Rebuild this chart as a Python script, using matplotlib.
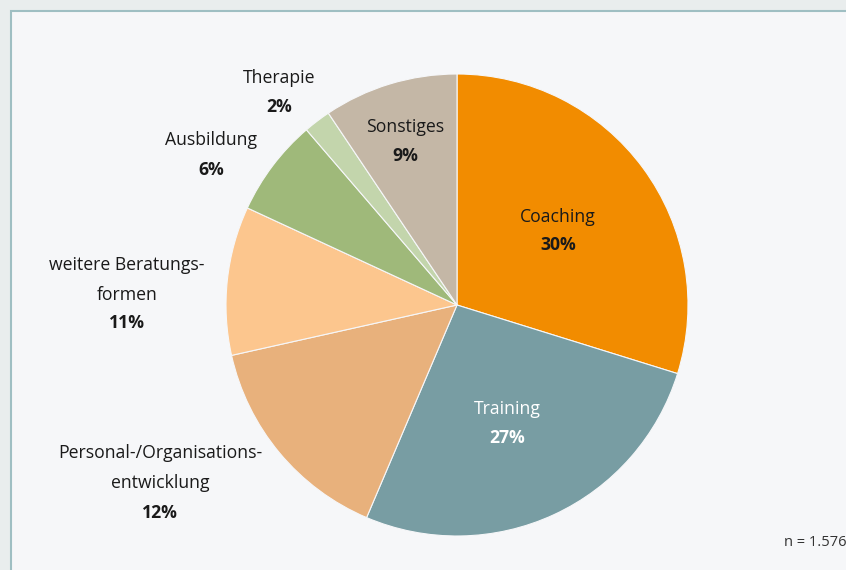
import matplotlib.pyplot as plt
from matplotlib.patches import Rectangle

# Anteile (Keile wie im Bild gemessen; Beschriftung wie gedruckt)
categories = ["Coaching", "Training", "Personal-/Organisations-\nentwicklung",
              "weitere Beratungs-\nformen", "Ausbildung", "Therapie", "Sonstiges"]
sizes = [29.8, 26.6, 15.1, 10.4, 6.8, 1.9, 9.4]
pct_labels = ["30%", "27%", "12%", "11%", "6%", "2%", "9%"]
colors = ["#f28c00", "#789da3", "#e8b17c", "#fcc68e", "#9fb97a", "#c3d5ac", "#c4b7a6"]

# Textpositionen in Pixeln (x, y-Mitte Name, y-Mitte Prozent; y von oben)
label_x = [558, 507, 160, 127, 211, 279, 405]
name_y = [217, 409, 468, 280, 140, 78, 127]
pct_y = [245, 438, 513, 323, 170, 107, 156]
label_col = ["#1a1a1a", "white", "#1a1a1a", "#1a1a1a", "#1a1a1a", "#1a1a1a", "#1a1a1a"]

W, H = 846, 570
plt.rcParams['font.family'] = ['Open Sans', 'DejaVu Sans']

fig = plt.figure(figsize=(W / 100, H / 100), dpi=100, facecolor="#e9eded")

ax = fig.add_axes([0, 0, 1, 1])
ax.set_xlim(0, W)
ax.set_ylim(0, H)
ax.set_aspect("equal")
ax.axis("off")

ax.add_patch(Rectangle((11, -20), W, H - 11 + 20, facecolor="#f6f7f9",
                       edgecolor="#9fbfc3", linewidth=1.5, zorder=0, clip_on=False))

ax.pie(sizes, colors=colors, startangle=90, counterclock=False,
       center=(457, H - 305), radius=231,
       wedgeprops=dict(edgecolor="#f6f7f9", linewidth=0.8, zorder=2))
ax.set_xlim(0, W)
ax.set_ylim(0, H)

for cat, pct, x, ny, py, c in zip(categories, pct_labels, label_x, name_y, pct_y, label_col):
    ax.text(x, H - ny, cat, ha="center", va="center", fontsize=12.7, color=c,
            linespacing=1.8, zorder=3)
    ax.text(x, H - py, pct, ha="center", va="center", fontsize=12.7, color=c,
            fontweight="bold", zorder=3)

ax.text(W, H - 542, "n = 1.576", ha="right", va="center", fontsize=10.5, color="#333333", zorder=3)

fig.savefig("out.png", dpi=100, facecolor=fig.get_facecolor())
